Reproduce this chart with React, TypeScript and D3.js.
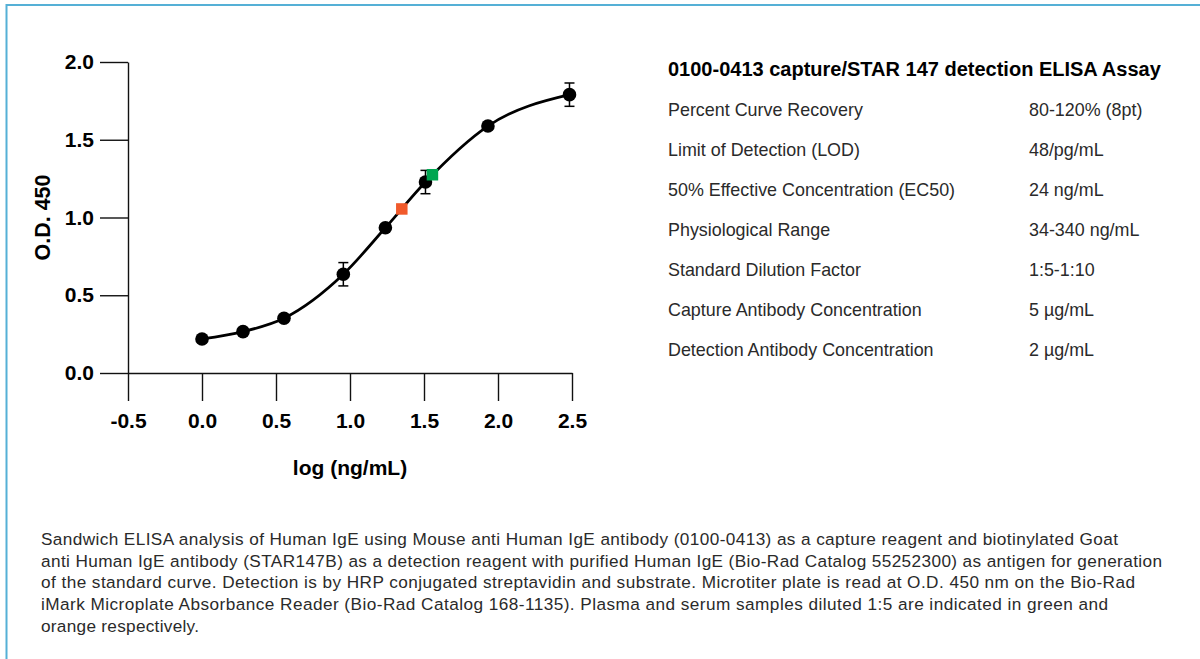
import React, { useEffect, useRef } from 'react';
import * as d3 from 'd3';

// standard curve points
const logConc = [0.0, 0.277, 0.554, 0.955, 1.239, 1.51, 1.932, 2.483];
const odMean = [0.219, 0.266, 0.352, 0.635, 0.934, 1.228, 1.588, 1.79];
const odErr = [0, 0, 0, 0.075, 0, 0.075, 0, 0.075];

// diluted samples (plasma = green, serum = orange)
const sampleNames = ['serum', 'plasma'];
const sampleLog = [1.35, 1.557];
const sampleOD = [1.055, 1.275];

const xTicks = [-0.5, 0, 0.5, 1.0, 1.5, 2.0, 2.5];
const yTicks = [0, 0.5, 1.0, 1.5, 2.0];

const tableTitle = '0100-0413 capture/STAR 147 detection ELISA Assay';
const specLabels = [
  'Percent Curve Recovery',
  'Limit of Detection (LOD)',
  '50% Effective Concentration (EC50)',
  'Physiological Range',
  'Standard Dilution Factor',
  'Capture Antibody Concentration',
  'Detection Antibody Concentration',
];
const specValues = [
  '80-120% (8pt)',
  '48/pg/mL',
  '24 ng/mL',
  '34-340 ng/mL',
  '1:5-1:10',
  '5 \u00b5g/mL',
  '2 \u00b5g/mL',
];

const captionLines = [
  'Sandwich ELISA analysis of Human IgE using Mouse anti Human IgE antibody (0100-0413) as a capture reagent and biotinylated Goat',
  'anti Human IgE antibody (STAR147B) as a detection reagent with purified Human IgE (Bio-Rad Catalog 55252300) as antigen for generation',
  'of the standard curve. Detection is by HRP conjugated streptavidin and substrate. Microtiter plate is read at O.D. 450 nm on the Bio-Rad',
  'iMark Microplate Absorbance Reader (Bio-Rad Catalog 168-1135). Plasma and serum samples diluted 1:5 are indicated in green and',
  'orange respectively.',
];
// measured line widths in the reference
const captionWidths = [1077, 1121, 1094, 1067, 158];

const sampleColor: Record<string, string> = { serum: '#f15a2b', plasma: '#00a651' };
const FONT = '"Liberation Sans", Arial, Helvetica, sans-serif';

const App: React.FC = () => {
  const svgRef = useRef<SVGSVGElement>(null);

  useEffect(() => {
    if (!svgRef.current) return;
    const svg = d3.select(svgRef.current);
    svg.selectAll('*').remove();

    svg.append('rect').attr('width', 1200).attr('height', 659).attr('fill', '#fff');

    // frame (top and left edges only)
    svg.append('path')
      .attr('d', 'M6.5,659V5H1200')
      .attr('fill', 'none')
      .attr('stroke', '#55b0d6')
      .attr('stroke-width', 2);

    const x = d3.scaleLinear().domain([-0.5, 2.5]).range([128, 572]);
    const y = d3.scaleLinear().domain([0, 2]).range([373, 62]);

    const fmt = (v: d3.NumberValue) => (+v).toFixed(1);

    const gx = svg.append('g')
      .attr('transform', `translate(0,${y(0)})`)
      .call(d3.axisBottom(x).tickValues(xTicks).tickFormat(fmt).tickSize(28).tickSizeOuter(0).tickPadding(12));

    const gy = svg.append('g')
      .attr('transform', `translate(${x(-0.5)},0)`)
      .call(d3.axisLeft(y).tickValues(yTicks).tickFormat(fmt).tickSize(28).tickSizeOuter(0).tickPadding(6));

    [gx, gy].forEach(g => {
      g.selectAll('.domain').attr('stroke', '#111').attr('stroke-width', 1.4);
      g.selectAll('.tick line').attr('stroke', '#111').attr('stroke-width', 1.4);
      g.selectAll('.tick text')
        .attr('fill', '#000')
        .style('font-family', FONT)
        .style('font-size', '21px')
        .style('font-weight', 'bold');
    });

    svg.append('text')
      .attr('x', (x(-0.5) + x(2.5)) / 2)
      .attr('y', 475)
      .attr('text-anchor', 'middle')
      .style('font-family', FONT)
      .style('font-size', '21px')
      .style('font-weight', 'bold')
      .attr('fill', '#000')
      .text('log (ng/mL)');

    svg.append('text')
      .attr('transform', `translate(50,${y(1.0)}) rotate(-90)`)
      .attr('text-anchor', 'middle')
      .style('font-family', FONT)
      .style('font-size', '21.5px')
      .style('font-weight', 'bold')
      .attr('fill', '#000')
      .text('O.D. 450');

    const pts = logConc.map((v, i) => ({ x: v, y: odMean[i], e: odErr[i] }));

    const line = d3.line<{ x: number; y: number }>()
      .x(d => x(d.x))
      .y(d => y(d.y))
      .curve(d3.curveMonotoneX);

    svg.append('path')
      .datum(pts)
      .attr('fill', 'none')
      .attr('stroke', '#000')
      .attr('stroke-width', 2.7)
      .attr('d', line);

    const bars = svg.append('g').attr('stroke', '#000').attr('stroke-width', 1.5);
    pts.filter(d => d.e > 0).forEach(d => {
      const cx = x(d.x);
      bars.append('line').attr('x1', cx).attr('x2', cx).attr('y1', y(d.y - d.e)).attr('y2', y(d.y + d.e));
      bars.append('line').attr('x1', cx - 5).attr('x2', cx + 5).attr('y1', y(d.y - d.e)).attr('y2', y(d.y - d.e));
      bars.append('line').attr('x1', cx - 5).attr('x2', cx + 5).attr('y1', y(d.y + d.e)).attr('y2', y(d.y + d.e));
    });

    svg.append('g')
      .selectAll('circle')
      .data(pts)
      .enter()
      .append('circle')
      .attr('cx', d => x(d.x))
      .attr('cy', d => y(d.y))
      .attr('r', 6.8)
      .attr('fill', '#000');

    const sq = 11.5;
    svg.append('g')
      .selectAll('rect')
      .data(sampleNames)
      .enter()
      .append('rect')
      .attr('x', (_, i) => x(sampleLog[i]) - sq / 2)
      .attr('y', (_, i) => y(sampleOD[i]) - sq / 2)
      .attr('width', sq)
      .attr('height', sq)
      .attr('fill', d => sampleColor[d]);

    // spec table
    svg.append('text')
      .attr('x', 668)
      .attr('y', 76)
      .style('font-family', FONT)
      .style('font-size', '20px')
      .style('font-weight', 'bold')
      .attr('fill', '#000')
      .text(tableTitle);

    const rows = svg.append('g')
      .style('font-family', FONT)
      .style('font-size', '17.9px')
      .attr('fill', '#2a2a2a');
    specLabels.forEach((lab, i) => {
      const by = 115.5 + i * 40;
      rows.append('text').attr('x', 668).attr('y', by).text(lab);
      rows.append('text').attr('x', 1029).attr('y', by).text(specValues[i]);
    });

    const cap = svg.append('g')
      .style('font-family', FONT)
      .style('font-size', '17.2px')
      .attr('fill', '#2a2a2a');
    captionLines.forEach((t, i) => {
      cap.append('text')
        .attr('x', 41)
        .attr('y', 545 + i * 21.7)
        .attr('textLength', captionWidths[i])
        .attr('lengthAdjust', 'spacing')
        .text(t);
    });
  }, []);

  return (
    <div style={{ position: 'absolute', left: 0, top: 0, width: 1200, height: 659, background: '#fff' }}>
      <svg ref={svgRef} width={1200} height={659}></svg>
    </div>
  );
};

export default App;
